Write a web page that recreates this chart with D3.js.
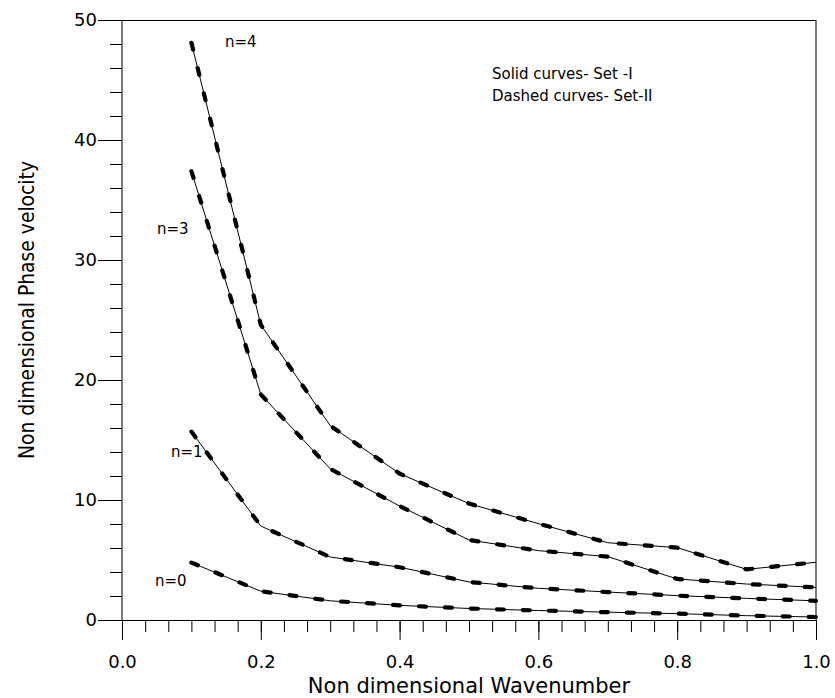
<!DOCTYPE html>
<html>
<head>
<meta charset="utf-8">
<script src="https://cdn.jsdelivr.net/npm/d3@7"></script>
<style>
  html, body { margin: 0; padding: 0; background: #fff; }
  svg { display: block; }
  text { font-family: "DejaVu Sans", Verdana, sans-serif; fill: #000; }
</style>
</head>
<body>
<svg id="chart" width="835" height="698"></svg>
<script>
// Wavenumber samples shared by all modes
const wavenumber = [0.1, 0.2, 0.3, 0.4, 0.5, 0.6, 0.7, 0.8, 0.9, 1.0];

// Phase velocity for each mode n
const mode0 = [4.78, 2.40, 1.60, 1.22, 0.96, 0.79, 0.65, 0.53, 0.36, 0.25];
const mode1 = [15.7, 7.83, 5.25, 4.40, 3.17, 2.64, 2.33, 2.03, 1.80, 1.60];
const mode3 = [37.4, 18.8, 12.6, 9.50, 6.67, 5.78, 5.28, 3.42, 3.00, 2.72];
const mode4 = [48.1, 24.6, 16.2, 12.2, 9.70, 8.03, 6.44, 6.03, 4.22, 4.81];

const modeNames = ["n=0", "n=1", "n=3", "n=4"];
const modeValues = [mode0, mode1, mode3, mode4];

const xTickLabels = ["0.0", "0.2", "0.4", "0.6", "0.8", "1.0"];
const yTickLabels = ["0", "10", "20", "30", "40", "50"];

const legendLines = ["Solid curves- Set -I", "Dashed curves- Set-II"];

const svg = d3.select("#chart");

const x = d3.scaleLinear().domain([0, 1]).range([122, 816]);
const y = d3.scaleLinear().domain([0, 50]).range([620, 20]);

// minor ticks
const xMinor = d3.range(0, 31).map(i => i / 30);
const yMinor = d3.range(0, 26).map(i => i * 2);
const xMajor = xTickLabels.map(Number);
const yMajor = yTickLabels.map(Number);

const axisColor = "#000";

// bottom axis: minor then major ticks
svg.append("g")
  .attr("transform", `translate(0,${y(0)})`)
  .call(d3.axisBottom(x).tickValues(xMinor).tickSize(12).tickFormat(""))
  .call(g => g.select(".domain").remove());
svg.append("g")
  .attr("transform", `translate(0,${y(0)})`)
  .call(d3.axisBottom(x).tickValues(xMajor).tickSize(20).tickSizeOuter(0)
        .tickFormat((d, i) => xTickLabels[i]))
  .call(g => g.select(".domain").remove())
  .call(g => g.selectAll("text").attr("y", 48).attr("dy", null).attr("font-size", 18)
        .attr("font-family", "DejaVu Sans"));

// left axis
svg.append("g")
  .attr("transform", `translate(${x(0)},0)`)
  .call(d3.axisLeft(y).tickValues(yMinor).tickSize(12).tickFormat(""))
  .call(g => g.select(".domain").remove());
svg.append("g")
  .attr("transform", `translate(${x(0)},0)`)
  .call(d3.axisLeft(y).tickValues(yMajor).tickSize(24).tickSizeOuter(0)
        .tickFormat((d, i) => yTickLabels[i]))
  .call(g => g.select(".domain").remove())
  .call(g => g.selectAll("text").attr("x", -25).attr("font-size", 18)
        .attr("font-family", "DejaVu Sans"));

// frame
const frame = svg.append("g").attr("fill", "none").attr("stroke", axisColor).attr("stroke-width", 1);
frame.append("line").attr("x1", x(0)).attr("x2", x(1)).attr("y1", y(0) + 0.5).attr("y2", y(0) + 0.5);
frame.append("line").attr("x1", x(0)).attr("x2", x(1)).attr("y1", y(50) + 0.5).attr("y2", y(50) + 0.5);
frame.append("line").attr("x1", x(0)).attr("x2", x(0)).attr("y1", y(50)).attr("y2", y(0))
  .attr("stroke", "#444").attr("stroke-width", 1.4);
frame.append("line").attr("x1", x(1)).attr("x2", x(1)).attr("y1", y(50)).attr("y2", y(0))
  .attr("stroke", "#444").attr("stroke-width", 1.4);

// curves
const line = d3.line().x((d, i) => x(wavenumber[i])).y(d => y(d));
const curves = svg.append("g").attr("fill", "none");
modeValues.forEach(vals => {
  // Set I: thin solid
  curves.append("path").attr("d", line(vals))
    .attr("stroke", "#000").attr("stroke-width", 1);
  // Set II: thick dashes
  curves.append("path").attr("d", line(vals))
    .attr("stroke", "#000").attr("stroke-width", 4.2)
    .attr("stroke-linecap", "round")
    .attr("stroke-dasharray", "7 19");
});

// mode labels
const labelPos = [[155, 586], [171, 457], [157, 234], [225, 47]];
svg.append("g").selectAll("text").data(modeNames).join("text")
  .attr("x", (d, i) => labelPos[i][0]).attr("y", (d, i) => labelPos[i][1])
  .attr("font-size", 15).text(d => d);

// legend note
svg.append("g").selectAll("text").data(legendLines).join("text")
  .attr("x", 492).attr("y", (d, i) => 79 + i * 22)
  .attr("font-size", 15).text(d => d);

// axis titles
svg.append("text").attr("x", 469).attr("y", 693).attr("text-anchor", "middle")
  .attr("font-size", 21).text("Non dimensional Wavenumber");
svg.append("text").attr("transform", "translate(34,310) rotate(-90)")
  .attr("text-anchor", "middle").attr("font-size", 21)
  .attr("textLength", 298).attr("lengthAdjust", "spacingAndGlyphs")
  .text("Non dimensional Phase velocity");
</script>
</body>
</html>
